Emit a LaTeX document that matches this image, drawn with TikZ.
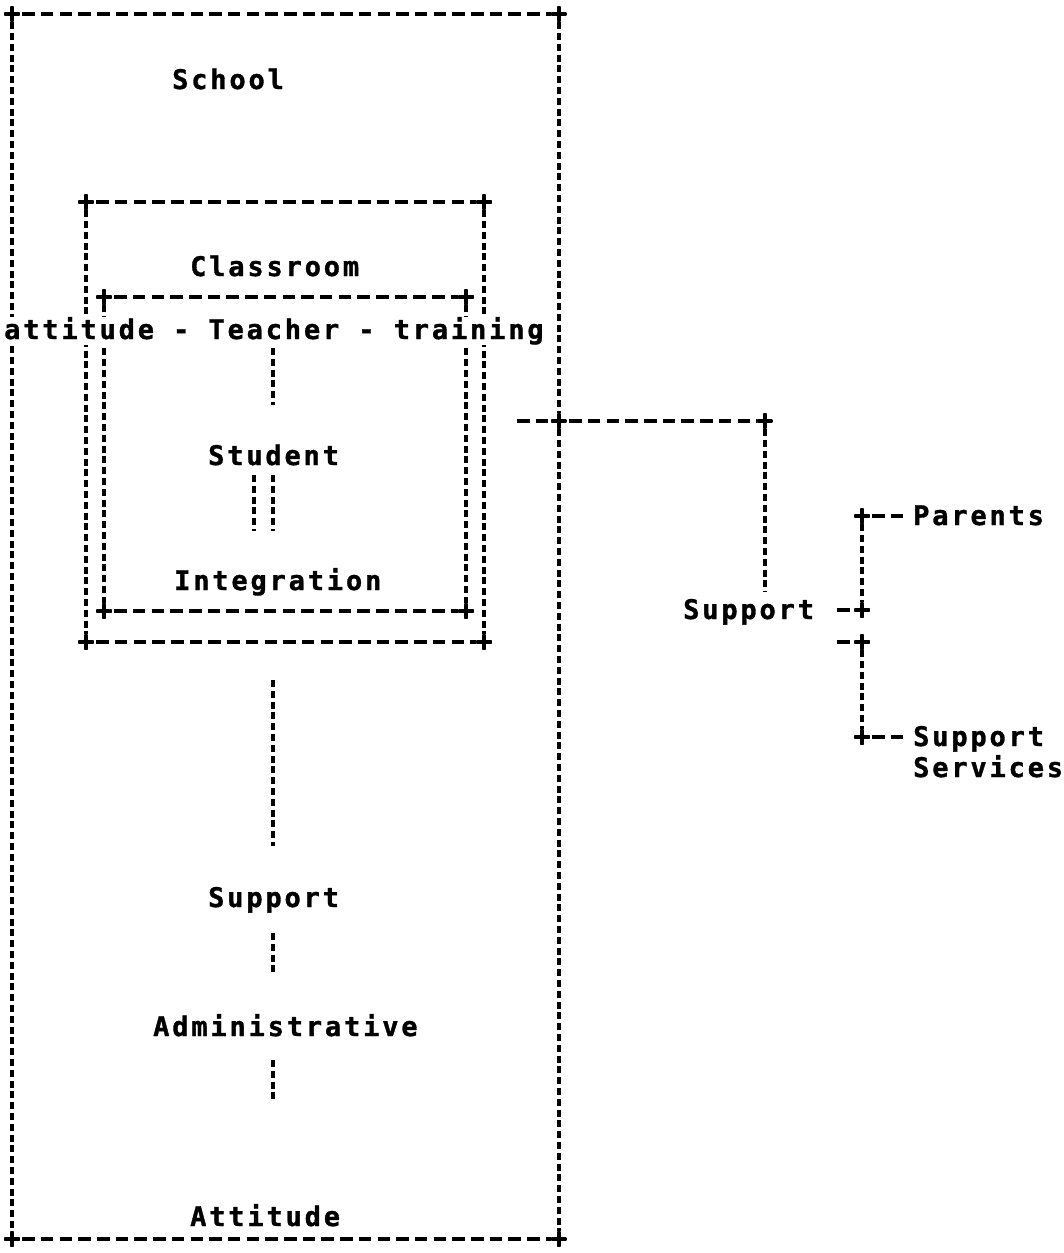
\documentclass[tikz,border=0pt]{standalone}
\usepackage{fontspec}
\newfontfamily\plotfont[LetterSpace=10.5, BoldFeatures={FakeBold=1.2}]{DejaVu Sans Mono}
\begin{document}
\begin{tikzpicture}[x=1pt,y=-1pt,
  lbl/.style={font={\fontsize{27pt}{30pt}\selectfont\plotfont\bfseries},
              inner sep=0pt, anchor=base west},
  hline/.style={line width=3.6pt, dash pattern=on 12.5pt off 6.2pt, dash phase=16.7pt},
  vline/.style={line width=3.4pt, dash pattern=on 7pt off 3.8pt},
  plusmark/.style={circle, inner sep=0pt, minimum size=16pt,
    path picture={\draw[line width=3.8pt]
      (path picture bounding box.west) -- (path picture bounding box.east)
      (path picture bounding box.north) -- (path picture bounding box.south);}}
]
\fill[white] (0,0) rectangle (1064,1253);
\useasboundingbox (0,0) rectangle (1064,1253);

% outer box: School
\node[plusmark] (s1) at (12,14) {};
\node[plusmark] (s2) at (559,14) {};
\node[plusmark] (s3) at (559,1239) {};
\node[plusmark] (s4) at (12,1239) {};
\node[plusmark] (sj) at (559,421) {};
\draw[hline] (s1) -- (s2);
\draw[hline] (s4) -- (s3);
\draw[vline] (s1) -- (s4);
\draw[vline] (s2) -- (sj);
\draw[vline] (sj) -- (s3);

% middle box: Classroom
\node[plusmark] (c1) at (86,202) {};
\node[plusmark] (c2) at (484,202) {};
\node[plusmark] (c3) at (484,642) {};
\node[plusmark] (c4) at (86,642) {};
\draw[hline] (c1) -- (c2);
\draw[hline] (c4) -- (c3);
\draw[vline] (c1) -- (c4);
\draw[vline] (c2) -- (c3);

% inner box: Teacher / Student / Integration
\node[plusmark] (i1) at (104,297) {};
\node[plusmark] (i2) at (466,297) {};
\node[plusmark] (i3) at (466,611) {};
\node[plusmark] (i4) at (104,611) {};
\draw[hline] (i1) -- (i2);
\draw[hline] (i4) -- (i3);
\draw[vline] (i1) -- (i4);
\draw[vline] (i2) -- (i3);

% labels inside the boxes
\node[lbl] (school) at (172,89) {School};
\node[lbl] (classroom) at (190,276) {Classroom};
\node[lbl, fill=white] (teacher) at (4,339) {attitude - Teacher - training};
\node[lbl] (student) at (208,465) {Student};
\node[lbl] (integration) at (174,590) {Integration};
\node[lbl] (support) at (208,907) {Support};
\node[lbl] (admin) at (153,1036) {Administrative};
\node[lbl] (attitude) at (190,1226) {Attitude};

% vertical links down the middle
\coordinate (a1) at (273,348); \coordinate (a2) at (273,405);
\draw[vline] (a1) -- (a2);
\coordinate (b1) at (254,475); \coordinate (b2) at (254,531);
\coordinate (b3) at (273,475); \coordinate (b4) at (273,531);
\draw[vline] (b1) -- (b2);
\draw[vline] (b3) -- (b4);
\coordinate (e1) at (273,680); \coordinate (e2) at (273,846);
\draw[vline] (e1) -- (e2);
\coordinate (f1) at (273,933); \coordinate (f2) at (273,976);
\draw[vline] (f1) -- (f2);
\coordinate (g1) at (273,1060); \coordinate (g2) at (273,1102);
\draw[vline] (g1) -- (g2);

% outside branch: Support
\coordinate (r0) at (515,421);
\node[plusmark] (r1) at (765,421) {};
\coordinate (r2) at (765,592);
\draw[hline] (r0) -- (sj);
\draw[hline] (sj) -- (r1);
\draw[vline] (r1) -- (r2);
\node[lbl] (support2) at (683,619) {Support};

\node[plusmark] (q1) at (862,516) {};
\node[plusmark] (q2) at (862,610) {};
\node[plusmark] (q3) at (862,642) {};
\node[plusmark] (q4) at (862,737) {};
\draw[vline] (q1) -- (q2);
\draw[vline] (q3) -- (q4);
\coordinate (d2) at (835,610);
\coordinate (d3) at (835,642);
\draw[hline] (d2) -- (q2);
\draw[hline] (d3) -- (q3);

\node[lbl] (parents) at (913,525) {Parents};
\node[lbl] (services) at (913,746) {Support};
\node[lbl] (services2) at (913,777) {Services};
\draw[hline, shorten >=7pt] (q1) -- (q1 -| parents.west);
\draw[hline, shorten >=7pt] (q4) -- (q4 -| services.west);
\end{tikzpicture}
\end{document}
